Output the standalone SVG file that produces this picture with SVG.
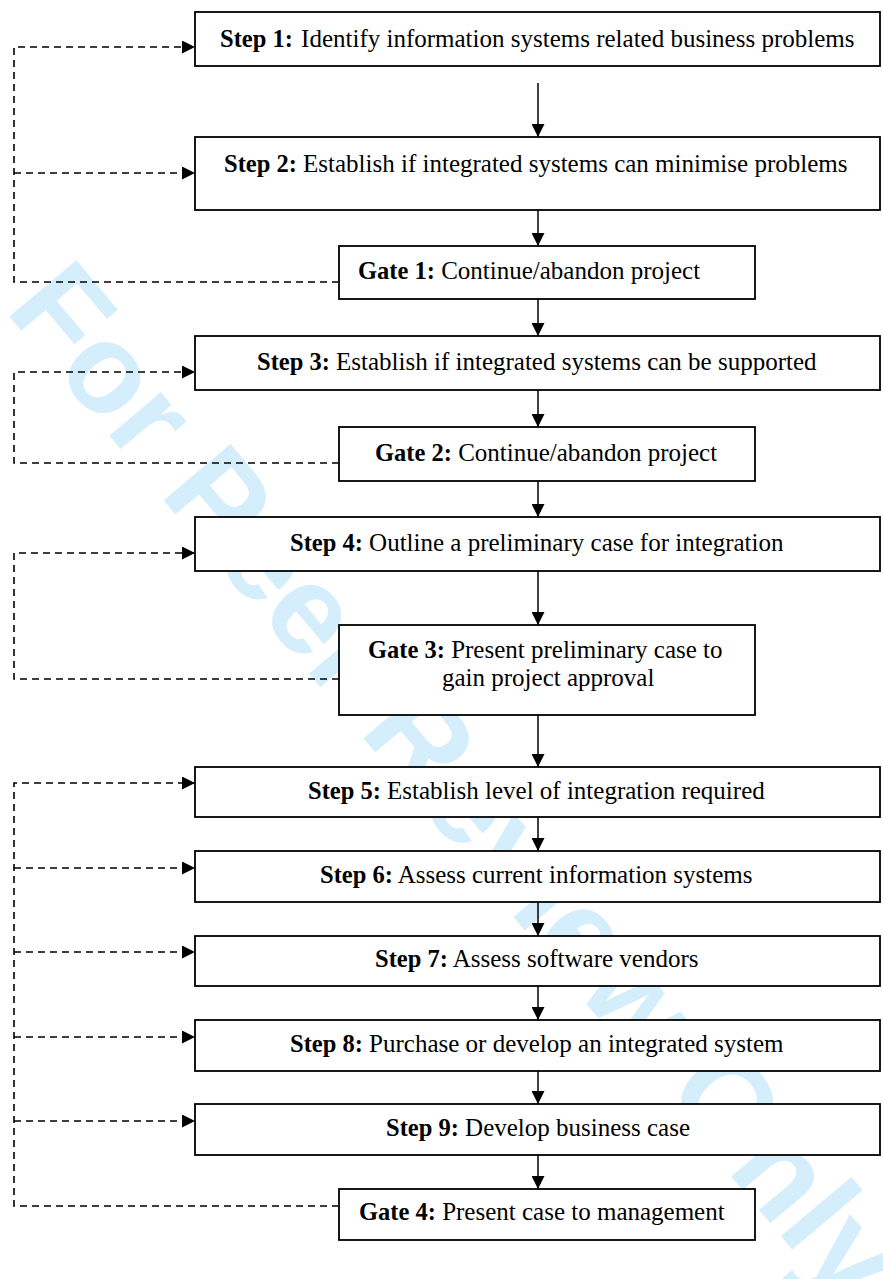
<svg xmlns="http://www.w3.org/2000/svg" width="883" height="1279" viewBox="0 0 883 1279">
<defs>
<style>
.box{fill:#fff;stroke:#000;stroke-width:1.8}
.t{font-family:"Liberation Serif","Times New Roman",serif;font-size:25px;fill:#000}
.b{font-weight:bold;font-size:24.5px}
.flow{stroke:#000;stroke-width:1.5;fill:none}
.dash{stroke:#000;stroke-width:1.6;fill:none;stroke-dasharray:7 5}
.wm{font-family:"Liberation Sans",Arial,sans-serif;font-weight:bold;font-size:127px;fill:#d4eefb}
</style>
<marker id="ah" viewBox="0 0 13 13" refX="13" refY="6.5" markerWidth="13" markerHeight="13" markerUnits="userSpaceOnUse" orient="auto"><path d="M0,0 L13,6.5 L0,13 Z" fill="#000"/></marker>
</defs>
<rect width="883" height="1279" fill="#fff"/>
<text class="wm" transform="translate(4,310) rotate(50)">For Peer Review Only</text>

<g id="step1"><rect class="box" x="195" y="12" width="685" height="54"/><text class="t" x="220" y="47"><tspan class="b">Step 1:</tspan><tspan dx="2"> Identify information systems related business problems</tspan></text></g>
<g id="step2"><rect class="box" x="195" y="137" width="685" height="73"/><text class="t" x="224" y="172"><tspan class="b">Step 2:</tspan> Establish if integrated systems can minimise problems</text></g>
<g id="gate1"><rect class="box" x="339" y="246" width="416" height="53"/><text class="t" x="358" y="279"><tspan class="b">Gate 1:</tspan> Continue/abandon project</text></g>
<g id="step3"><rect class="box" x="195" y="336" width="685" height="54"/><text class="t" x="257" y="370"><tspan class="b">Step 3:</tspan> Establish if integrated systems can be supported</text></g>
<g id="gate2"><rect class="box" x="339" y="427" width="416" height="54"/><text class="t" x="375" y="461"><tspan class="b">Gate 2:</tspan> Continue/abandon project</text></g>
<g id="step4"><rect class="box" x="195" y="517" width="685" height="54"/><text class="t" x="290" y="551"><tspan class="b">Step 4:</tspan> Outline a preliminary case for integration</text></g>
<g id="gate3"><rect class="box" x="339" y="625" width="416" height="90"/><text class="t" x="368" y="658"><tspan class="b">Gate 3:</tspan> Present preliminary case to</text><text class="t" x="442" y="686">gain project approval</text></g>
<g id="step5"><rect class="box" x="195" y="767" width="685" height="50"/><text class="t" x="308" y="799"><tspan class="b">Step 5:</tspan> Establish level of integration required</text></g>
<g id="step6"><rect class="box" x="195" y="851" width="685" height="51"/><text class="t" x="320" y="883"><tspan class="b">Step 6:</tspan> Assess current information systems</text></g>
<g id="step7"><rect class="box" x="195" y="936" width="685" height="50"/><text class="t" x="375" y="967"><tspan class="b">Step 7:</tspan> Assess software vendors</text></g>
<g id="step8"><rect class="box" x="195" y="1020" width="685" height="51"/><text class="t" x="290" y="1052"><tspan class="b">Step 8:</tspan> Purchase or develop an integrated system</text></g>
<g id="step9"><rect class="box" x="195" y="1104" width="685" height="51"/><text class="t" x="386" y="1136"><tspan class="b">Step 9:</tspan> Develop business case</text></g>
<g id="gate4"><rect class="box" x="339" y="1189" width="416" height="51"/><text class="t" x="359" y="1220"><tspan class="b">Gate 4:</tspan> Present case to management</text></g>

<g id="connectors">
<path class="flow" d="M538,83 V137" marker-end="url(#ah)"/>
<path class="flow" d="M538,210 V246" marker-end="url(#ah)"/>
<path class="flow" d="M538,299 V336" marker-end="url(#ah)"/>
<path class="flow" d="M538,390 V427" marker-end="url(#ah)"/>
<path class="flow" d="M538,481 V517" marker-end="url(#ah)"/>
<path class="flow" d="M538,571 V625" marker-end="url(#ah)"/>
<path class="flow" d="M538,715 V767" marker-end="url(#ah)"/>
<path class="flow" d="M538,817 V851" marker-end="url(#ah)"/>
<path class="flow" d="M538,902 V936" marker-end="url(#ah)"/>
<path class="flow" d="M538,986 V1020" marker-end="url(#ah)"/>
<path class="flow" d="M538,1071 V1104" marker-end="url(#ah)"/>
<path class="flow" d="M538,1155 V1189" marker-end="url(#ah)"/>

<path class="dash" d="M339,282 H14 V47 H195" marker-end="url(#ah)"/>
<path class="dash" d="M14,173 H195" marker-end="url(#ah)"/>
<path class="dash" d="M339,463 H14 V372 H195" marker-end="url(#ah)"/>
<path class="dash" d="M339,679 H14 V553 H195" marker-end="url(#ah)"/>
<path class="dash" d="M339,1206 H14 V783 H195" marker-end="url(#ah)"/>
<path class="dash" d="M14,868 H195" marker-end="url(#ah)"/>
<path class="dash" d="M14,952 H195" marker-end="url(#ah)"/>
<path class="dash" d="M14,1037 H195" marker-end="url(#ah)"/>
<path class="dash" d="M14,1121 H195" marker-end="url(#ah)"/>
</g>
</svg>
